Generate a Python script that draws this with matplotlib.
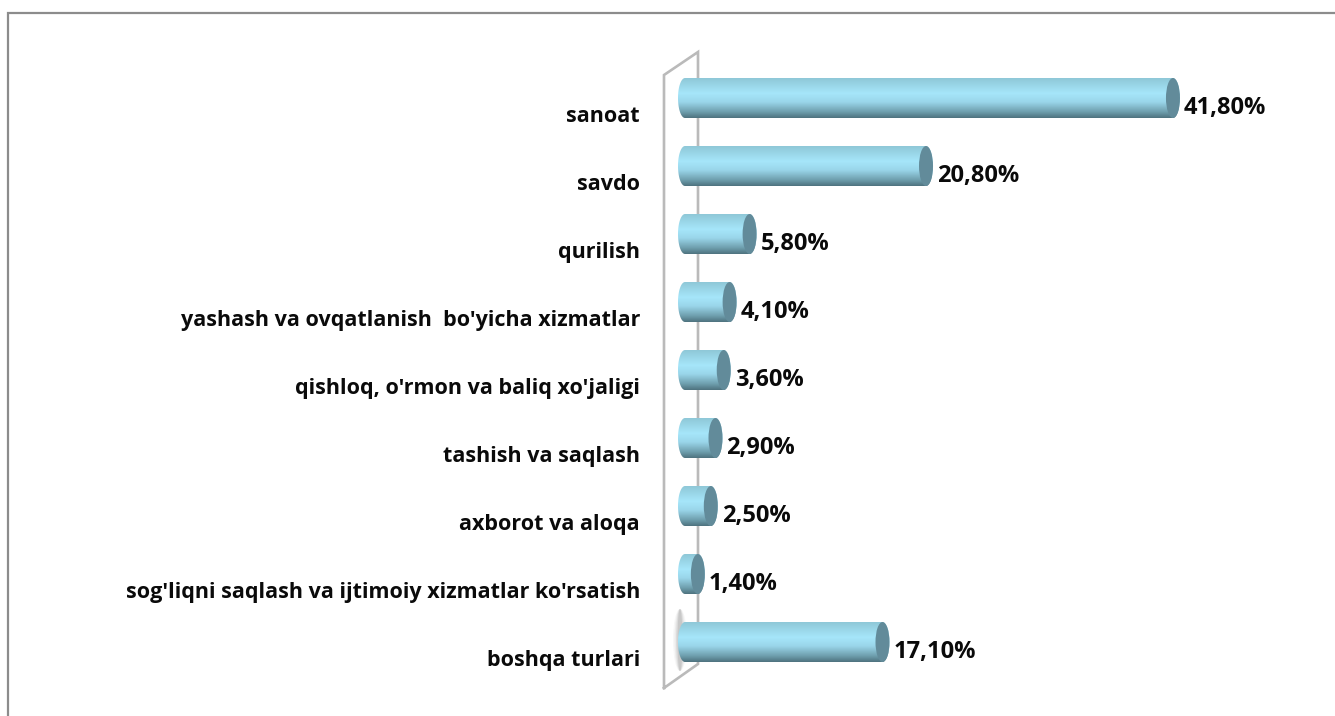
import numpy as np
import matplotlib
matplotlib.use("Agg")
import matplotlib.pyplot as plt
from matplotlib.patches import Ellipse, Polygon
from matplotlib.colors import LinearSegmentedColormap

categories = ["sanoat", "savdo", "qurilish", "yashash va ovqatlanish  bo'yicha xizmatlar",
              "qishloq, o'rmon va baliq xo'jaligi", "tashish va saqlash", "axborot va aloqa",
              "sog'liqni saqlash va ijtimoiy xizmatlar ko'rsatish", "boshqa turlari"]
values = [41.8, 20.8, 5.8, 4.1, 3.6, 2.9, 2.5, 1.4, 17.1]
value_labels = ["41,80%", "20,80%", "5,80%", "4,10%", "3,60%", "2,90%", "2,50%", "1,40%", "17,10%"]

W, H = 1335, 716
X0, PX = 681.4, 11.76
Y0, PY = 98.0, 68.0
plt.rcParams['font.family'] = ['Open Sans', 'DejaVu Sans']
fig = plt.figure(figsize=(W/100, H/100), dpi=100, facecolor="white")
ax = fig.add_axes([0, 0, 1, 1])
ax.axis("off")

def px(x, y):
    return ((x-X0)/PX, (y-Y0)/PY)

# frame: left and top only
ax.plot(*zip(px(8, 716), px(8, 13), px(1335, 13)), color="#8c8c8c", lw=1.6, solid_joinstyle="miter")
# wall
ax.plot(*zip(px(664, 688), px(664, 75), px(698, 52), px(698, 664), px(664, 688)),
        color="#bababa", lw=1.9, zorder=1, solid_joinstyle="miter")
# soft shadow beside the last bar
for w, a in [(14, .05), (11, .08), (8, .12), (5, .16)]:
    ax.add_patch(Ellipse(px(680, 640), w/PX, 62/PY, fc="#6a6a6a", ec="none", alpha=a, zorder=1.5))

cmap = LinearSegmentedColormap.from_list("c", [(0, "#8fc8d8"), (0.38, "#a6e6fa"), (0.6, "#9ad6ea"),
                                                (0.85, "#6f9fae"), (1, "#4f7480")])
grad = np.linspace(0, 1, 64).reshape(-1, 1)
half = 20/PY
ew = 14/PX
left_off = 3.6/PX
theta = np.linspace(-np.pi/2, np.pi/2, 40)
for i, v in enumerate(values):
    right = np.c_[v + ew/2*np.cos(theta), i + half*np.sin(theta)]
    leftc = np.c_[left_off - ew/2*np.cos(theta[::-1]), i + half*np.sin(theta[::-1])]
    clip = Polygon(np.r_[right, leftc], closed=True, fc="none", ec="none")
    ax.add_patch(clip)
    im = ax.imshow(grad, extent=(-ew, v+ew, i+half, i-half), cmap=cmap, aspect="auto", zorder=3,
                   interpolation="bilinear")
    im.set_clip_path(clip)
    ax.add_patch(Ellipse((v, i), ew, 2*half, fc="#628b9a", ec="none", zorder=4))
    ax.text(v + ew/2 + 4/PX, i + 10/PY, value_labels[i], ha="left", va="center", fontsize=17,
            fontweight="bold", color="#0a0a0a", zorder=5)
    ax.text(px(640, 0)[0], i + 18.5/PY, categories[i], ha="right", va="center", fontsize=15.5,
            fontweight="bold", color="#0a0a0a", zorder=5)

ax.set_xlim(-X0/PX, (W-X0)/PX)
ax.set_ylim((H-Y0)/PY, -Y0/PY)
fig.savefig("out.png", dpi=100)
